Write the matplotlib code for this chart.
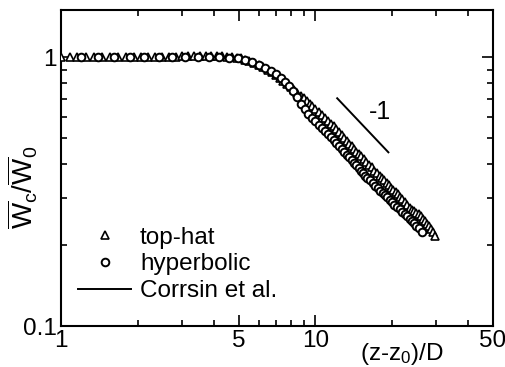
import matplotlib
matplotlib.use('Agg')
import matplotlib.pyplot as plt
from matplotlib.ticker import FixedLocator, NullFormatter, FixedFormatter
from matplotlib.lines import Line2D

plt.rcParams['font.family'] = ['Liberation Sans', 'DejaVu Sans']
plt.rcParams['mathtext.fontset'] = 'custom'
plt.rcParams['mathtext.rm'] = 'Liberation Sans'
plt.rcParams['mathtext.it'] = 'Liberation Sans'

# top-hat profile (triangles)
tophat_x = [1.00, 1.08, 1.16, 1.25, 1.35, 1.45, 1.56, 1.68, 1.80, 1.93, 2.06, 2.20,
            2.35, 2.50, 2.66, 2.82, 2.99, 3.16, 3.34, 3.52, 3.71, 3.90, 4.10, 4.30,
            4.50, 4.70, 4.90, 5.10, 5.30, 5.50, 5.75, 6.00, 6.25, 6.50, 6.75, 7.00,
            7.25, 7.50, 7.75, 8.00, 8.25, 8.50, 8.75, 9.00, 9.25, 9.50, 9.75, 10.0,
            10.3, 10.6, 10.9, 11.2, 11.5, 11.8, 12.1, 12.4, 12.7, 13.0, 13.3, 13.6,
            13.9, 14.2, 14.5, 14.8, 15.1, 15.5, 15.9, 16.3, 16.7, 17.1, 17.5, 17.9,
            18.3, 18.7, 19.1, 19.5, 19.9, 20.3, 20.7, 21.1, 21.5, 22.0, 22.5, 23.0,
            23.5, 24.0, 24.5, 25.0, 25.5, 26.0, 26.5, 27.0, 27.5, 28.0, 28.5, 29.0, 29.7]
tophat_y = [1.00, 1.00, 1.00, 1.00, 1.00, 1.00, 1.00, 1.00, 1.00, 1.00, 1.00, 1.00,
            1.00, 1.005, 1.005, 1.005, 1.01, 1.01, 1.01, 1.01, 1.01, 1.01, 1.01, 1.01,
            1.005, 1.00, 0.995, 0.99, 0.98, 0.97, 0.955, 0.94, 0.92, 0.90, 0.88, 0.86,
            0.84, 0.815, 0.795, 0.775, 0.755, 0.737, 0.72, 0.704, 0.688, 0.672, 0.656, 0.641,
            0.625, 0.61, 0.595, 0.58, 0.566, 0.553, 0.54, 0.527, 0.514, 0.501, 0.489, 0.477,
            0.466, 0.456, 0.446, 0.437, 0.429, 0.419, 0.409, 0.399, 0.389, 0.379, 0.37, 0.362,
            0.355, 0.348, 0.341, 0.334, 0.327, 0.321, 0.315, 0.309, 0.303, 0.296, 0.289, 0.282,
            0.276, 0.271, 0.267, 0.263, 0.26, 0.256, 0.251, 0.246, 0.24, 0.235, 0.229, 0.224, 0.217]

# hyperbolic profile (circles)
hyper_x = [1.20, 1.40, 1.62, 1.86, 2.12, 2.42, 2.74, 3.08, 3.45, 3.82, 4.20, 4.58,
           4.95, 5.30, 5.65, 6.00, 6.35, 6.70, 7.00, 7.30, 7.60, 7.90, 8.20, 8.50,
           8.80, 9.10, 9.40, 9.70, 10.0, 10.3, 10.6, 10.9, 11.2, 11.5, 11.8, 12.1,
           12.4, 12.7, 13.0, 13.3, 13.6, 13.9, 14.2, 14.5, 14.8, 15.1, 15.4, 15.7,
           16.0, 16.4, 16.8, 17.2, 17.6, 18.0, 18.4, 18.8, 19.2, 19.6, 20.0, 20.5,
           21.0, 21.5, 22.0, 22.5, 23.0, 23.5, 24.0, 24.5, 25.0, 25.5, 26.3]
hyper_y = [1.0, 1.0, 1.0, 1.0, 1.0, 1.0, 1.0, 1.0, 1.0, 1.0, 1.0, 0.995,
           0.99, 0.98, 0.963, 0.94, 0.915, 0.89, 0.865, 0.84, 0.81, 0.78, 0.75, 0.712,
           0.672, 0.642, 0.617, 0.596, 0.578, 0.561, 0.545, 0.531, 0.517, 0.504, 0.492, 0.48,
           0.468, 0.456, 0.445, 0.434, 0.424, 0.414, 0.405, 0.396, 0.387, 0.379, 0.371, 0.363,
           0.356, 0.348, 0.34, 0.333, 0.326, 0.319, 0.313, 0.307, 0.301, 0.295, 0.289, 0.283,
           0.277, 0.272, 0.266, 0.261, 0.256, 0.251, 0.246, 0.241, 0.236, 0.231, 0.223]

# Corrsin et al.
corrsin_x = [8.0, 10.0, 12.0, 15.0, 20.0, 25.0, 28.5]
corrsin_y = [0.770, 0.632, 0.533, 0.424, 0.318, 0.259, 0.226]

# -1 slope guide
slope_x = [12.2, 19.4]
slope_y = [0.704, 0.443]

fig = plt.figure(figsize=(5.05, 3.67), dpi=100)
ax = fig.add_axes([0.121, 0.1117, 0.855, 0.8611])

ax.plot(corrsin_x, corrsin_y, color='black', lw=3.5, zorder=2)
ax.plot(tophat_x, tophat_y, ls='none', marker='^', ms=5.5, mfc='white', mec='black', mew=1.2, zorder=3)
ax.plot(hyper_x, hyper_y, ls='none', marker='o', ms=5.5, mfc='white', mec='black', mew=1.4, zorder=4)
ax.plot(slope_x, slope_y, color='black', lw=1.4)
ax.text(18.0, 0.625, '-1', fontsize=18, ha='center', va='center')

ax.set_xscale('log')
ax.set_yscale('log')
ax.set_xlim(1, 50)
ax.set_ylim(0.1, 1.5)

ax.xaxis.set_major_locator(FixedLocator([1, 5, 10, 50]))
ax.xaxis.set_major_formatter(FixedFormatter(['1', '5', '10', '50']))
ax.xaxis.set_minor_locator(FixedLocator([2, 3, 4, 6, 7, 8, 9, 20, 30, 40]))
ax.xaxis.set_minor_formatter(NullFormatter())
ax.yaxis.set_major_locator(FixedLocator([0.1, 1]))
ax.yaxis.set_major_formatter(FixedFormatter(['0.1', '1']))
ax.yaxis.set_minor_locator(FixedLocator([0.2, 0.3, 0.4, 0.5, 0.6, 0.7, 0.8, 0.9]))
ax.yaxis.set_minor_formatter(NullFormatter())

ax.tick_params(which='both', direction='in', top=True, right=True, labelsize=17.5, width=1.2)
ax.tick_params(which='major', length=8, pad=3)
ax.tick_params(which='minor', length=4.5)
for s in ax.spines.values():
    s.set_linewidth(1.5)

ax.set_ylabel(r'$\overline{\mathrm{W}}_{\mathrm{c}}/\overline{\mathrm{W}}_{0}$', fontsize=20)
ax.yaxis.set_label_coords(-0.05, 0.44)
ax.text(0.79, -0.09, r'(z-z$_0$)/D', transform=ax.transAxes, fontsize=17.5,
        ha='center', va='center')

handles = [Line2D([], [], ls='none', marker='^', ms=6, mfc='white', mec='black', mew=1.2),
           Line2D([], [], ls='none', marker='o', ms=5.5, mfc='white', mec='black', mew=1.4),
           Line2D([], [], color='black', lw=1.4)]
ax.legend(handles, ['top-hat', 'hyperbolic', 'Corrsin et al.'], loc='lower left',
          bbox_to_anchor=(0.039, 0.075), frameon=False, fontsize=17.5, borderpad=0,
          borderaxespad=0, handlelength=2.2, handletextpad=0.35, labelspacing=0.2)

fig.savefig('out.png', dpi=100)
